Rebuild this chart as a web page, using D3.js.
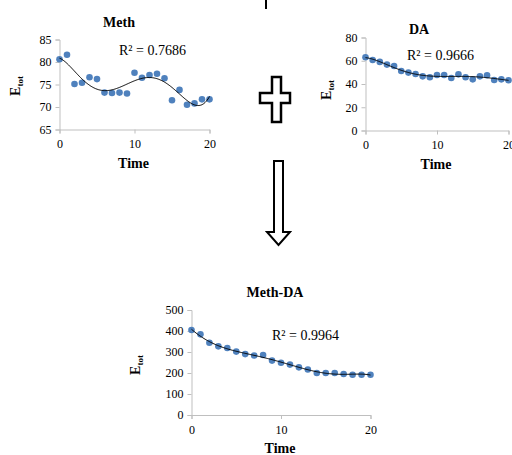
<!DOCTYPE html>
<html>
<head>
<meta charset="utf-8">
<script src="https://cdn.jsdelivr.net/npm/d3@7"></script>
<style>
    body { margin: 0; background: #fff; }
    svg { display: block; font-family: "Liberation Serif", "Times New Roman", serif; }
</style>
</head>
<body>
<svg id="chart" width="512" height="455"></svg>
<script>
// Data
var time = [0, 1, 2, 3, 4, 5, 6, 7, 8, 9, 10, 11, 12, 13, 14, 15, 16, 17, 18, 19, 20];
var methValues = [80.6, 81.6, 75.1, 75.4, 76.6, 76.2, 73.2, 73.1, 73.2, 73.0, 77.6,
                  76.5, 77.1, 77.4, 76.4, 71.5, 73.8, 70.5, 70.8, 71.7, 71.7];
var daValues = [63.0, 60.7, 59.0, 56.7, 55.5, 51.2, 49.8, 48.6, 46.6, 45.8, 47.8,
                47.8, 45.2, 48.3, 45.8, 44.0, 46.6, 47.5, 43.5, 44.0, 43.2];
var methDaValues = [405, 384, 344, 327, 319, 302, 290, 283, 286, 259, 249,
                    240, 227, 217, 200, 200, 200, 195, 192, 192, 192];
var xTicks = [0, 10, 20];
var methTicks = [65, 70, 75, 80, 85];
var daTicks = [0, 20, 40, 60, 80];
var methDaTicks = [0, 100, 200, 300, 400, 500];
var titles = ["Meth", "DA", "Meth-DA"];
var r2Labels = ["R\u00b2 = 0.7686", "R\u00b2 = 0.9666", "R\u00b2 = 0.9964"];

var svg = d3.select("#chart");

// Least squares polynomial (the Excel style trendline)
function polyFit(xs, ys, deg) {
    var n = deg + 1, A = [], b = [], i, j, k;
    for (i = 0; i < n; i++) { A.push(new Array(n).fill(0)); b.push(0); }
    xs.forEach(function (x, idx) {
        var u = x / 20, p = [];
        for (j = 0; j < 2 * n - 1; j++) p.push(Math.pow(u, j));
        for (i = 0; i < n; i++) {
            for (j = 0; j < n; j++) A[i][j] += p[i + j];
            b[i] += p[i] * ys[idx];
        }
    });
    // gaussian elimination
    for (i = 0; i < n; i++) {
        var piv = i;
        for (k = i + 1; k < n; k++) if (Math.abs(A[k][i]) > Math.abs(A[piv][i])) piv = k;
        var tmp = A[i]; A[i] = A[piv]; A[piv] = tmp;
        var tb = b[i]; b[i] = b[piv]; b[piv] = tb;
        for (k = i + 1; k < n; k++) {
            var f = A[k][i] / A[i][i];
            for (j = i; j < n; j++) A[k][j] -= f * A[i][j];
            b[k] -= f * b[i];
        }
    }
    var c = new Array(n).fill(0);
    for (i = n - 1; i >= 0; i--) {
        var s = b[i];
        for (j = i + 1; j < n; j++) s -= A[i][j] * c[j];
        c[i] = s / A[i][i];
    }
    return function (t) {
        var u = t / 20, v = 0;
        for (j = n - 1; j >= 0; j--) v = v * u + c[j];
        return v;
    };
}

function drawPanel(p) {
    var x = d3.scaleLinear().domain([0, 20]).range([p.left, p.right]);
    var y = d3.scaleLinear().domain(d3.extent(p.ticks)).range([p.bottom, p.top]);
    var g = svg.append("g");

    // Axes
    g.append("g")
        .attr("class", "axis")
        .attr("transform", "translate(0," + p.bottom + ")")
        .call(d3.axisBottom(x).tickValues(xTicks).tickSizeOuter(0).tickSize(4).tickPadding(6));

    g.append("g")
        .attr("class", "axis")
        .attr("transform", "translate(" + p.left + ",0)")
        .call(d3.axisLeft(y).tickValues(p.ticks).tickSizeOuter(0).tickSize(4).tickPadding(4));

    g.selectAll(".axis")
        .attr("font-family", "'Liberation Serif', 'Times New Roman', serif")
        .attr("font-size", 12);
    g.selectAll(".axis .domain").attr("stroke", "#bfbfbf");
    g.selectAll(".axis .tick line").attr("stroke", "#bfbfbf");
    g.selectAll(".axis .tick text").attr("fill", "#000");

    // Points
    g.append("g")
        .selectAll("circle")
        .data(p.values)
        .enter().append("circle")
        .attr("cx", function (d, i) { return x(time[i]); })
        .attr("cy", function (d) { return y(d); })
        .attr("r", 3.3)
        .attr("fill", "#4f81bd");

    // Trendline
    var fit = polyFit(time, p.values, p.degree);
    var line = d3.line()
        .x(function (t) { return x(t); })
        .y(function (t) { return y(fit(t)); });
    g.append("path")
        .datum(d3.range(0, 20.001, 0.1))
        .attr("d", line)
        .attr("fill", "none")
        .attr("stroke", "#000")
        .attr("stroke-width", 1);

    // Texts
    g.append("text")
        .attr("x", p.titleX).attr("y", p.titleY)
        .attr("text-anchor", "middle")
        .attr("font-weight", "bold")
        .attr("font-size", 14)
        .text(p.title);

    g.append("text")
        .attr("x", p.r2X).attr("y", p.r2Y)
        .attr("font-size", 14)
        .text(p.r2);

    g.append("text")
        .attr("x", (p.left + p.right) / 2 - 1).attr("y", p.bottom + 38)
        .attr("text-anchor", "middle")
        .attr("font-weight", "bold")
        .attr("font-size", 14)
        .text("Time");

    var yl = g.append("text")
        .attr("transform", "translate(" + p.ylabX + "," + p.ylabY + ") rotate(-90)")
        .attr("text-anchor", "middle")
        .attr("font-weight", "bold")
        .attr("font-size", 14);
    yl.append("tspan").text("E");
    yl.append("tspan").attr("font-size", 9).attr("dy", 3).text("tot");
}

drawPanel({ values: methValues, ticks: methTicks, title: titles[0], r2: r2Labels[0], degree: 6,
    left: 59.5, right: 209.5, top: 39.5, bottom: 129.5,
    titleX: 119, titleY: 27, r2X: 119, r2Y: 55, ylabX: 20, ylabY: 86 });

drawPanel({ values: daValues, ticks: daTicks, title: titles[1], r2: r2Labels[1], degree: 6,
    left: 365.5, right: 508.5, top: 37.5, bottom: 130.5,
    titleX: 419, titleY: 34, r2X: 407, r2Y: 60, ylabX: 331, ylabY: 90 });

drawPanel({ values: methDaValues, ticks: methDaTicks, title: titles[2], r2: r2Labels[2], degree: 6,
    left: 191.5, right: 370.5, top: 310, bottom: 415,
    titleX: 275, titleY: 297, r2X: 272, r2Y: 340, ylabX: 140, ylabY: 365 });

// Decorations between the panels: small bar, plus sign and down arrow
svg.append("line")
    .attr("x1", 266).attr("x2", 266).attr("y1", 0).attr("y2", 9)
    .attr("stroke", "#000").attr("stroke-width", 2);

svg.append("path")
    .attr("d", "M272,77 H281 V93 H290 V103 H281 V122 H272 V103 H260 V93 H272 Z")
    .attr("fill", "#fff").attr("stroke", "#000").attr("stroke-width", 2.5);

svg.append("path")
    .attr("d", "M274,161 H283 V232 H290 L278.5,245 L267,232 H274 Z")
    .attr("fill", "#fff").attr("stroke", "#000").attr("stroke-width", 2);
</script>
</body>
</html>
